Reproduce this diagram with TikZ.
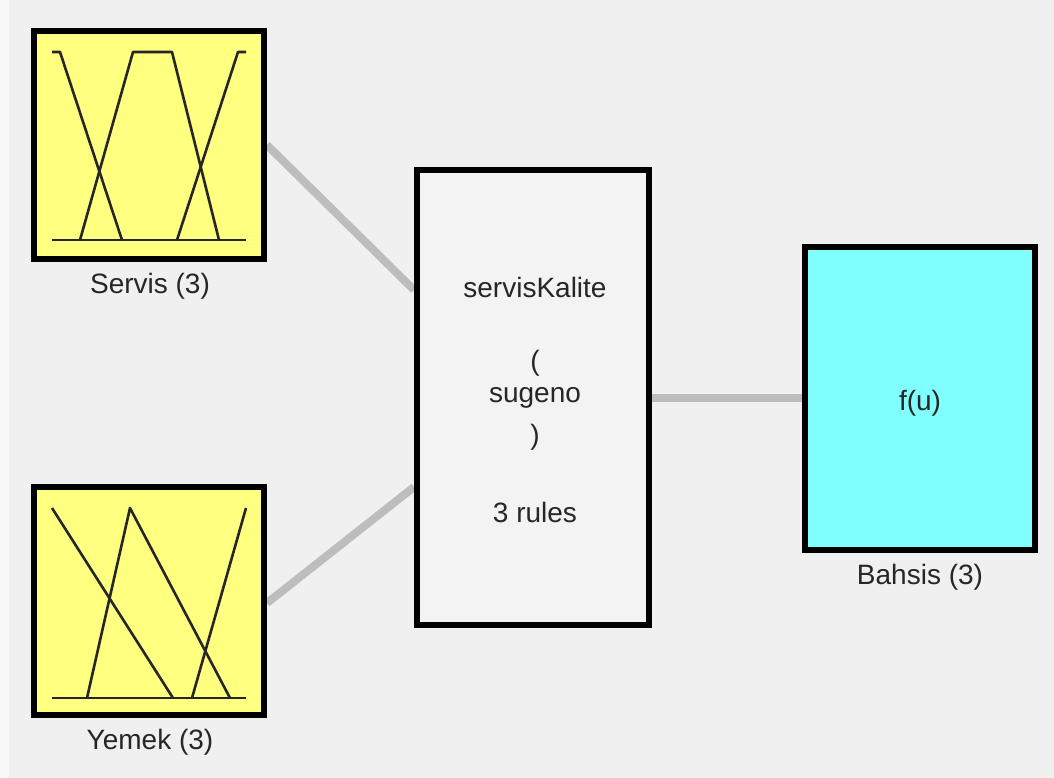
\documentclass[tikz,border=0pt]{standalone}
\usepackage{fontspec}
\setmainfont{Liberation Sans}
\pgfdeclarelayer{back}
\pgfsetlayers{back,main}
\definecolor{bgc}{HTML}{F0F0F0}
\definecolor{strip}{HTML}{F8F8F8}
\definecolor{mfy}{HTML}{FFFF80}
\definecolor{outc}{HTML}{80FFFF}
\definecolor{boxc}{HTML}{F3F3F3}
\definecolor{conn}{HTML}{BDBDBD}
\definecolor{txt}{HTML}{262626}
\tikzset{
  blk/.style={draw=black, line width=6pt, inner sep=0pt, fill=#1},
  mf/.style={line width=2.6pt, draw=black!85, line join=round},
  lbl/.style={font=\fontsize{28}{32}\selectfont, text=txt, inner sep=0pt},
  conline/.style={draw=conn, line width=8pt}
}
\begin{document}
\begin{tikzpicture}[x=1pt,y=-1pt]
\begin{pgfonlayer}{back}
  \fill[bgc] (0,0) rectangle (1054,778);
  \fill[strip] (0,0) rectangle (9,778);
\end{pgfonlayer}
\useasboundingbox (0,0) rectangle (1054,778);

% blocks
\node[blk=mfy, minimum width=230.5pt, minimum height=228pt] (servis) at (148.75,145) {};
\node[blk=mfy, minimum width=230.5pt, minimum height=228pt] (yemek) at (148.75,601) {};
\node[blk=boxc, minimum width=232pt, minimum height=455pt] (rule) at (533,397.5) {};
\node[blk=outc, minimum width=230pt, minimum height=303pt] (bahsis) at (920,398.5) {};

% membership functions: Servis
\draw[mf] (52,240) -- (246,240);
\draw[mf] (52,52) -- (60,52) -- (122,240);
\draw[mf] (80,240) -- (133,52) -- (172,52) -- (219,240);
\draw[mf] (177,240) -- (238,52) -- (246,52);
% membership functions: Yemek
\draw[mf] (52,698) -- (246,698);
\draw[mf] (52,508) -- (173,698);
\draw[mf] (87,698) -- (130,508) -- (230,698);
\draw[mf] (192,698) -- (246,508);

% texts
\node[lbl] (lservis) at (150,286) {Servis (3)};
\node[lbl] (lyemek) at (150,742) {Yemek (3)};
\node[lbl] (t1) at (535,287) {servisKalite};
\node[lbl] (t2) at (535,363) {(};
\node[lbl] (t3) at (535,398) {sugeno};
\node[lbl] (t4) at (535,437) {)};
\node[lbl] (t5) at (535,512) {3 rules};
\node[lbl] (fu) at (920,403) {f(u)};
\node[lbl] (lbahsis) at (920,577) {Bahsis (3)};

% connectors
\begin{pgfonlayer}{back}
  \draw[conline] (servis.east) -- ([yshift=107.5pt]rule.west);
  \draw[conline] ([yshift=-2pt]yemek.east) -- ([yshift=-89.5pt]rule.west);
  \draw[conline] (rule.east) -- (rule.east -| bahsis.west);
\end{pgfonlayer}
\end{tikzpicture}
\end{document}
